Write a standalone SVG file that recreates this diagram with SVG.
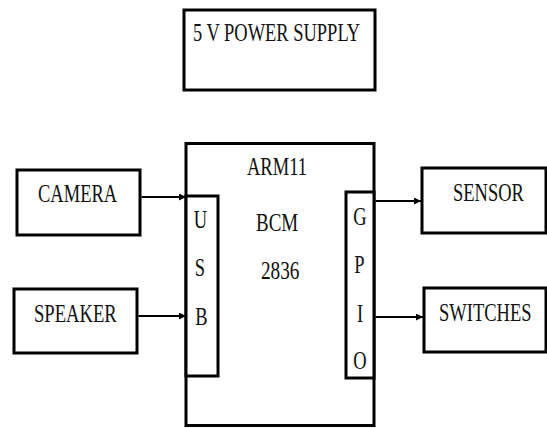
<svg xmlns="http://www.w3.org/2000/svg" width="547" height="428" viewBox="0 0 547 428">
<style>
.box{fill:#fff;stroke:#000;stroke-width:3}
.bar{fill:#fff;stroke:#000;stroke-width:3}
.lbl{font-family:"Liberation Serif","Times New Roman",serif;font-size:25px;fill:#111}
.mid{text-anchor:middle}
.conn{stroke:#000;stroke-width:2;fill:none}
</style>
<defs>
<marker id="ah" markerUnits="userSpaceOnUse" markerWidth="8" markerHeight="7" refX="7" refY="3.5" orient="auto">
<path d="M0,0 L7,3.5 L0,7 z" fill="#000"/>
</marker>
</defs>
<rect width="547" height="428" fill="#fff"/>
<g id="power">
<rect class="box" x="184" y="10" width="191" height="80"/>
<text class="lbl" font-family="Liberation Serif, serif" transform="translate(193,41) scale(0.71,1)" style="font-size:26px">5 V POWER SUPPLY</text>
</g>
<g id="arm">
<rect class="box" x="186" y="143.5" width="188" height="282"/>
<text class="lbl" transform="translate(247,175) scale(0.74,1)">ARM11</text>
<text class="lbl" transform="translate(256,231) scale(0.76,1)">BCM</text>
<text class="lbl" transform="translate(261,279) scale(0.77,1)">2836</text>
</g>
<g id="usb">
<rect class="bar" x="186" y="196" width="32" height="180"/>
<text class="lbl mid" transform="translate(200.5,228) scale(0.74,1)">U</text>
<text class="lbl mid" transform="translate(200,276) scale(0.74,1)">S</text>
<text class="lbl mid" transform="translate(201.5,325) scale(0.74,1)">B</text>
</g>
<g id="gpio">
<rect class="bar" x="346" y="192" width="28" height="186"/>
<text class="lbl mid" transform="translate(360,225) scale(0.74,1)">G</text>
<text class="lbl mid" transform="translate(359.5,273) scale(0.74,1)">P</text>
<text class="lbl mid" transform="translate(360,322) scale(0.74,1)">I</text>
<text class="lbl mid" transform="translate(360,369) scale(0.74,1)">O</text>
</g>
<g id="camera">
<rect class="box" x="17" y="170" width="123" height="65"/>
<text class="lbl" transform="translate(38,202) scale(0.74,1)">CAMERA</text>
</g>
<g id="speaker">
<rect class="box" x="14" y="289" width="123" height="64"/>
<text class="lbl" transform="translate(34,322) scale(0.745,1)">SPEAKER</text>
</g>
<g id="sensor">
<rect class="box" x="422" y="168" width="124" height="65"/>
<text class="lbl" transform="translate(453,201) scale(0.74,1)">SENSOR</text>
</g>
<g id="switches">
<rect class="box" x="424" y="288" width="122" height="64"/>
<text class="lbl" transform="translate(439,321) scale(0.74,1)">SWITCHES</text>
</g>
<g id="connectors">
<line class="conn" x1="141.5" y1="197" x2="186" y2="197" marker-end="url(#ah)"/>
<line class="conn" x1="138.5" y1="316" x2="186" y2="316" marker-end="url(#ah)"/>
<line class="conn" x1="375.5" y1="201" x2="421" y2="201" marker-end="url(#ah)"/>
<line class="conn" x1="375.5" y1="317" x2="423" y2="317" marker-end="url(#ah)"/>
</g>
</svg>
